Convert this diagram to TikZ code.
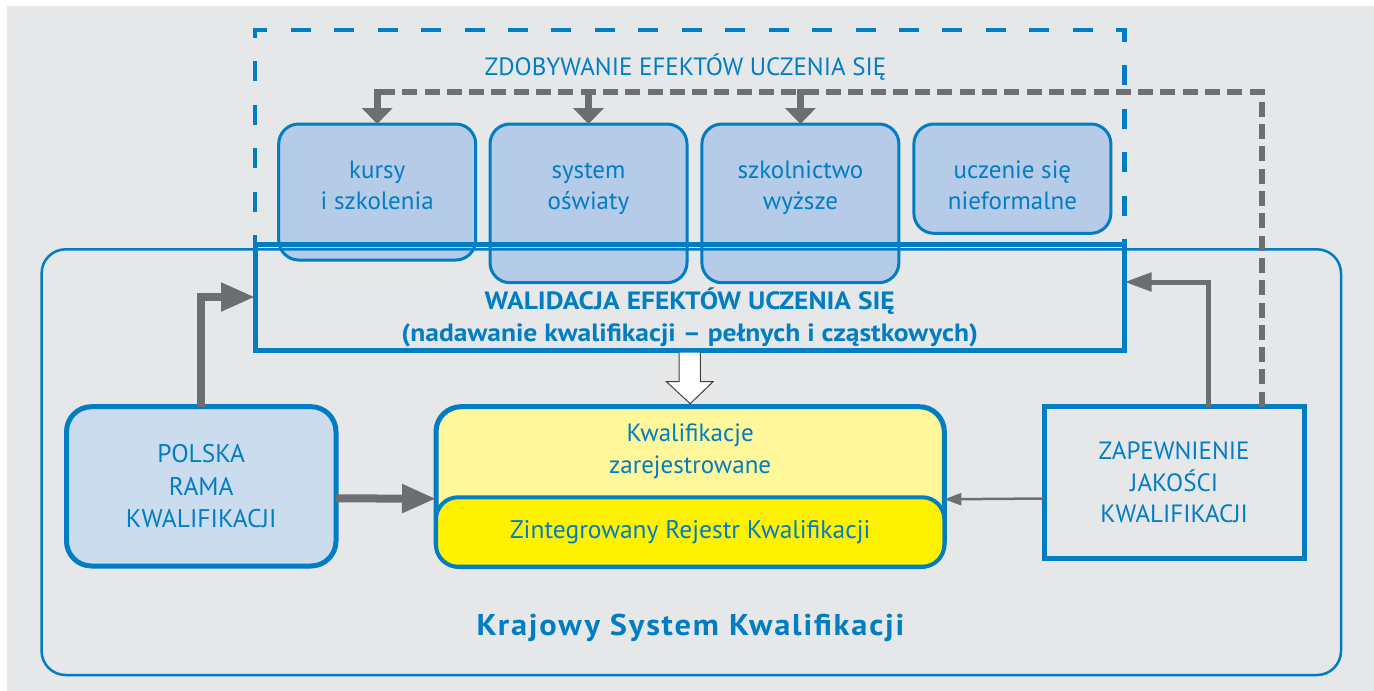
\documentclass[tikz,border=0pt]{standalone}
\usepackage{fontspec}
\setmainfont{PT Sans}
\usetikzlibrary{arrows.meta,calc}
\definecolor{bgc}{HTML}{E6E7E8}
\definecolor{kblue}{RGB}{0,125,195}
\definecolor{kgray}{HTML}{6D6E71}
\definecolor{tbfill}{RGB}{181,203,232}
\definecolor{prfill}{RGB}{204,220,239}
\definecolor{ylight}{RGB}{255,247,153}
\definecolor{ybright}{RGB}{255,242,0}
\tikzset{
  fnt/.style={font=\fontsize{25}{31.7}\selectfont},
  topbox/.style={draw=kblue, line width=3pt, fill=tbfill, rounded corners=20pt,
    minimum width=197pt, inner sep=0pt, outer sep=0pt},
  txt/.style={text=kblue, fnt, align=center, inner sep=0pt, outer sep=0pt},
  bigbox/.style={draw=kblue, line width=5pt, inner sep=0pt, outer sep=0pt, text=kblue, align=center},
  thickarr/.style={draw=kgray, line width=8pt, -{Triangle[length=34pt,width=27pt]}},
  midarr/.style={draw=kgray, line width=5pt, -{Triangle[length=27pt,width=18pt]}},
  thinarr/.style={draw=kgray, line width=2.5pt, -{Triangle[length=17pt,width=12pt]}},
  downarr/.style={draw=kgray, line width=7pt, -{Triangle[length=16pt,width=30pt]}},
  gdash/.style={draw=kgray, line width=6pt, dash pattern=on 15pt off 7.3pt},
  bdash/.style={draw=kblue, line width=4.5pt, dash pattern=on 20pt off 23.45pt, dash phase=11pt},
  warrow/.style={fill=white, draw=black!75, line width=1pt, line join=miter}
}
\begin{document}
\begin{tikzpicture}[x=1pt,y=-1pt]
\useasboundingbox (0,0) rectangle (1374,691);
\fill[bgc] (7,6) rectangle (1374,691);

% top boxes
\node[topbox, minimum height=136pt] (kursy) at (377.2,192) {};
\node[topbox, minimum height=158.7pt] (system) at (588.5,203.35) {};
\node[topbox, minimum height=158.7pt] (szkol) at (800.4,203.35) {};
\node[topbox, minimum height=109.3pt] (uczenie) at (1012.4,178.65) {};
\node[txt] (tkursy) at (377.2,187.8) {\strut kursy\\\strut i szkolenia};
\node[txt] (tsystem) at (588.5,187.8) {\strut system\\\strut oświaty};
\node[txt] (tszkol) at (800.4,187.8) {\strut szkolnictwo\\\strut wyższe};
\node[txt] (tuczenie) at (1012.4,187.8) {\strut uczenie się\\\strut nieformalne};

% outer system box
\node[draw=kblue, line width=2.5pt, rounded corners=24pt, minimum width=1299.4pt,
  minimum height=425.7pt, inner sep=0pt, outer sep=0pt] (ksk) at (691.3,462.15) {};
\node[text=kblue, font=\fontsize{30}{36}\selectfont\bfseries\addfontfeature{FakeStretch=1.08,LetterSpace=6},
  anchor=base, inner sep=0pt] (tksk) at (690.5,635) {Krajowy System Kwalifikacji};

% walidacja box
\node[bigbox, minimum width=869.5pt, minimum height=106pt] (walid) at (689.75,297) {};
\node[txt, font=\fontsize{25}{31.7}\selectfont\bfseries\addfontfeature{FakeStretch=1.1}] (twalid) at (689.75,319.5)
  {\strut WALIDACJA EFEKTÓW UCZENIA SIĘ\\\strut (nadawanie kwalifikacji – pełnych i cząstkowych)};

% blue dashed frame
\draw[bdash] (255,244) -- (255,30) -- (1124.5,30) -- (1124.5,244);
\node[text=kblue, fnt, anchor=base, inner sep=0pt] (tzdob) at (685.5,75) {ZDOBYWANIE EFEKTÓW UCZENIA SIĘ};

% lower boxes
\node[bigbox, fill=prfill, rounded corners=25pt, minimum width=269.5pt, minimum height=159.3pt,
  font=\fontsize{25.5}{32.5}\selectfont] (polska) at (201.25,486.35) {POLSKA\\RAMA\\KWALIFIKACJI};
\node[bigbox, minimum width=259.7pt, minimum height=151.6pt, fnt] (zap) at (1174.15,482.5)
  {ZAPEWNIENIE\\JAKOŚCI\\KWALIFIKACJI};
\node[bigbox, fill=ylight, rounded corners=25pt, minimum width=508.3pt, minimum height=160pt] (yellow) at (690.15,486.7) {};
\node[draw=kblue, line width=4pt, fill=ybright, rounded corners=22pt, minimum width=508.3pt,
  minimum height=69.4pt, inner sep=0pt, outer sep=0pt, txt, font=\fontsize{25.5}{31.7}\selectfont] (rejestr) at (690.15,532)
  {\strut Zintegrowany Rejestr Kwalifikacji};
\node[txt] (tkwal) at (690.15,451.2) {\strut Kwalifikacje\\\strut zarejestrowane};

% gray dashed feedback line
\coordinate (gl) at (0,92);
\draw[gdash] ([xshift=88pt]zap.north) |- (kursy.north |- gl);
\draw[downarr] ([yshift=3pt]kursy.north |- gl) -- (kursy.north);
\draw[downarr] ([yshift=3pt]system.north |- gl) -- (system.north);
\draw[downarr] ([yshift=3pt]szkol.north |- gl) -- (szkol.north);

% connectors
\draw[thickarr] (polska.north) |- (walid.west);
\draw[thickarr] ([yshift=-12pt]polska.east) -- ([yshift=-12pt]yellow.west);
\draw[thinarr] ([yshift=-16pt]zap.west) -- ([yshift=-12.6pt]yellow.east);
\draw[midarr] ([xshift=34pt]zap.north) |- ([yshift=15pt]walid.east);

% white block arrow
\draw[warrow] ($(walid.south)+(-10.7,2.5)$) -- ($(walid.south)+(-10.7,31.7)$)
  -- ($(walid.south)+(-23.3,31.7)$) -- ($(yellow.north)+(0,-3)$)
  -- ($(walid.south)+(23.3,31.7)$) -- ($(walid.south)+(10.7,31.7)$)
  -- ($(walid.south)+(10.7,2.5)$);
\end{tikzpicture}
\end{document}
